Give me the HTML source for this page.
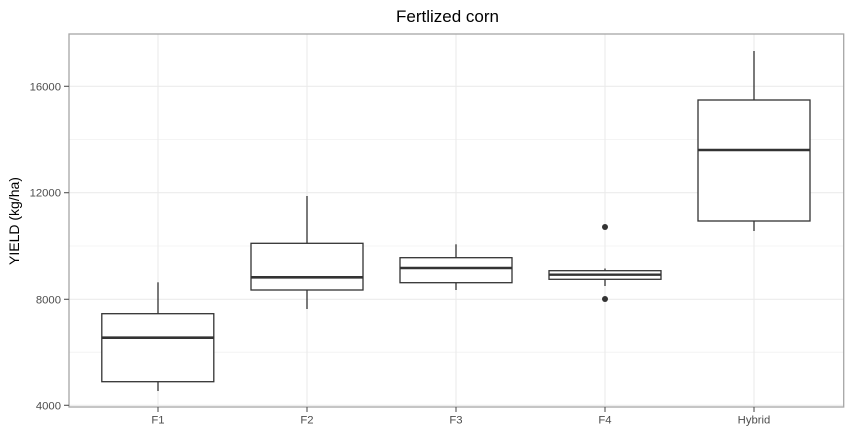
<!DOCTYPE html>
<html><head><meta charset="utf-8"><style>
html,body{margin:0;padding:0;background:#fff;}
svg{display:block;}
text{font-family:"Liberation Sans",Arial,sans-serif;}
</style></head><body>
<svg width="847" height="440" viewBox="0 0 847 440" xmlns="http://www.w3.org/2000/svg">
<rect x="0" y="0" width="847" height="440" fill="#fff"/>
<!-- minor grid -->
<g stroke="#f4f4f4" stroke-width="1">
<line x1="69" x2="844" y1="139.5" y2="139.5"/>
<line x1="69" x2="844" y1="246" y2="246"/>
<line x1="69" x2="844" y1="352.3" y2="352.3"/>
</g>
<!-- major grid -->
<g stroke="#ebebeb" stroke-width="1.1">
<line x1="69" x2="844" y1="86.3" y2="86.3"/>
<line x1="69" x2="844" y1="192.7" y2="192.7"/>
<line x1="69" x2="844" y1="299.3" y2="299.3"/>
<line x1="69" x2="844" y1="405.3" y2="405.3"/>
<line x1="158" x2="158" y1="34" y2="407"/>
<line x1="307" x2="307" y1="34" y2="407"/>
<line x1="456" x2="456" y1="34" y2="407"/>
<line x1="605" x2="605" y1="34" y2="407"/>
<line x1="754" x2="754" y1="34" y2="407"/>
</g>
<!-- boxes -->
<g stroke="#333" stroke-width="1.3" fill="#fff">
<!-- F1 -->
<line x1="158" x2="158" y1="282.3" y2="313.7"/>
<line x1="158" x2="158" y1="381.7" y2="391"/>
<rect x="101.8" y="313.7" width="112" height="68"/>
<line x1="101.8" x2="213.8" y1="337.7" y2="337.7" stroke-width="2.6"/>
<!-- F2 -->
<line x1="307" x2="307" y1="196" y2="243.3"/>
<line x1="307" x2="307" y1="290" y2="309"/>
<rect x="251" y="243.3" width="112" height="46.7"/>
<line x1="251" x2="363" y1="277.3" y2="277.3" stroke-width="2.6"/>
<!-- F3 -->
<line x1="456" x2="456" y1="244.3" y2="257.7"/>
<line x1="456" x2="456" y1="282.7" y2="290"/>
<rect x="400" y="257.7" width="112" height="25"/>
<line x1="400" x2="512" y1="268" y2="268" stroke-width="2.6"/>
<!-- F4 -->
<line x1="605" x2="605" y1="268.5" y2="270.7"/>
<line x1="605" x2="605" y1="279.3" y2="286"/>
<rect x="549" y="270.7" width="112" height="8.6"/>
<line x1="549" x2="661" y1="274.7" y2="274.7" stroke-width="2.4"/>
<!-- Hybrid -->
<line x1="754" x2="754" y1="51" y2="100"/>
<line x1="754" x2="754" y1="221" y2="231"/>
<rect x="698" y="100" width="112" height="121"/>
<line x1="698" x2="810" y1="150" y2="150" stroke-width="2.6"/>
</g>
<circle cx="605" cy="227" r="3" fill="#333"/>
<circle cx="605" cy="299" r="3" fill="#333"/>
<!-- panel border -->
<rect x="69" y="34" width="774.7" height="373" fill="none" stroke="#a6a6a6" stroke-width="1.3"/>
<!-- ticks -->
<g stroke="#555" stroke-width="1.1">
<line x1="64" x2="69" y1="86.3" y2="86.3"/>
<line x1="64" x2="69" y1="192.7" y2="192.7"/>
<line x1="64" x2="69" y1="299.3" y2="299.3"/>
<line x1="64" x2="69" y1="405.3" y2="405.3"/>
<line x1="158" x2="158" y1="407" y2="412"/>
<line x1="307" x2="307" y1="407" y2="412"/>
<line x1="456" x2="456" y1="407" y2="412"/>
<line x1="605" x2="605" y1="407" y2="412"/>
<line x1="754" x2="754" y1="407" y2="412"/>
</g>
<g fill="#4d4d4d" font-size="11.3" text-anchor="end">
<text x="61" y="90.3">16000</text>
<text x="61" y="196.7">12000</text>
<text x="61" y="303.3">8000</text>
<text x="61" y="409.3">4000</text>
</g>
<g fill="#4d4d4d" font-size="11.3" text-anchor="middle">
<text x="158" y="423.5">F1</text>
<text x="307" y="423.5">F2</text>
<text x="456" y="423.5">F3</text>
<text x="605" y="423.5">F4</text>
<text x="754" y="423.5">Hybrid</text>
</g>
<text x="447.5" y="22" font-size="17" text-anchor="middle" fill="#000">Fertlized corn</text>
<text transform="translate(19,221) rotate(-90)" font-size="14" text-anchor="middle" fill="#000">YIELD (kg/ha)</text>
</svg>
</body></html>
